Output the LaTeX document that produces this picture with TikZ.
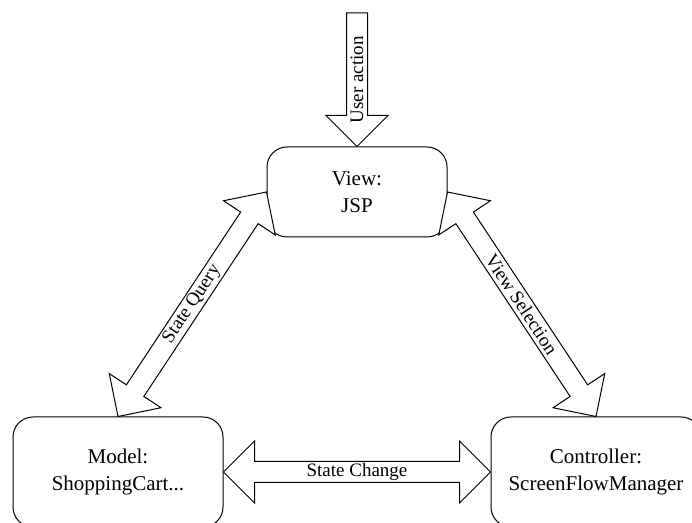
\documentclass[tikz,border=0pt]{standalone}
\usepackage{fontspec}
\setmainfont{Liberation Serif}
\usetikzlibrary{calc}

\begin{document}
\begin{tikzpicture}[x=0.5pt, y=-0.5pt,
    box/.style={draw, line width=0.5pt, rounded corners=10pt, align=center,
        font=\rmfamily\fontsize{10.5}{13.5}\selectfont},
    fat/.style={draw, fill=white, line width=0.5pt, line join=miter},
    lbl/.style={sloped, inner sep=0pt, font=\rmfamily\fontsize{9.5}{11}\selectfont}]

    % Fix the visible region
    \useasboundingbox (0,0) rectangle (692,523);
    \clip (0,0) rectangle (692,523);

    % Define the three boxes
    \node[box, minimum width=90pt, minimum height=45pt] (view) at (357,192) {View:\\JSP};
    \node[box, minimum width=105pt, minimum height=55pt] (model) at (118,472) {Model:\\ShoppingCart...};
    \node[box, minimum width=105pt, minimum height=55pt] (ctrl) at (596,472) {Controller:\\ScreenFlowManager};

    % Free end of the user action arrow
    \coordinate (act) at (357,13);

    % User action arrow (one head, into the view)
    \coordinate (ua) at ($(view.north)!15.5pt!(act)$);
    \draw[fat] ($(act)!5.25pt!90:(view.north)$) -- ($(ua)!5.25pt!-90:(act)$)
        -- ($(ua)!15.5pt!-90:(act)$) -- (view.north) -- ($(ua)!15.5pt!90:(act)$)
        -- ($(ua)!5.25pt!90:(act)$) -- ($(act)!5.25pt!-90:(view.north)$) -- cycle;
    \path (view.north) -- node[lbl] {User action} (act);

    % State query arrow between model and view
    \coordinate (q1) at ($(model.north)!15.5pt!(view.west)$);
    \coordinate (q2) at ($(view.west)!15.5pt!(model.north)$);
    \draw[fat] (model.north) -- ($(q1)!15.5pt!90:(view.west)$) -- ($(q1)!5.25pt!90:(view.west)$)
        -- ($(q2)!5.25pt!-90:(model.north)$) -- ($(q2)!15.5pt!-90:(model.north)$) -- (view.west)
        -- ($(q2)!15.5pt!90:(model.north)$) -- ($(q2)!5.25pt!90:(model.north)$)
        -- ($(q1)!5.25pt!-90:(view.west)$) -- ($(q1)!15.5pt!-90:(view.west)$) -- cycle;
    \path (model.north) -- node[lbl] {State Query} (view.west);

    % View selection arrow between view and controller
    \coordinate (s1) at ($(view.east)!15.5pt!(ctrl.north)$);
    \coordinate (s2) at ($(ctrl.north)!15.5pt!(view.east)$);
    \draw[fat] (view.east) -- ($(s1)!15.5pt!90:(ctrl.north)$) -- ($(s1)!5.25pt!90:(ctrl.north)$)
        -- ($(s2)!5.25pt!-90:(view.east)$) -- ($(s2)!15.5pt!-90:(view.east)$) -- (ctrl.north)
        -- ($(s2)!15.5pt!90:(view.east)$) -- ($(s2)!5.25pt!90:(view.east)$)
        -- ($(s1)!5.25pt!-90:(ctrl.north)$) -- ($(s1)!15.5pt!-90:(ctrl.north)$) -- cycle;
    \path (view.east) -- node[lbl] {View Selection} (ctrl.north);

    % State change arrow between model and controller
    \coordinate (c1) at ($(model.east)!15.5pt!(ctrl.west)$);
    \coordinate (c2) at ($(ctrl.west)!15.5pt!(model.east)$);
    \draw[fat] (model.east) -- ($(c1)!15.5pt!90:(ctrl.west)$) -- ($(c1)!5.25pt!90:(ctrl.west)$)
        -- ($(c2)!5.25pt!-90:(model.east)$) -- ($(c2)!15.5pt!-90:(model.east)$) -- (ctrl.west)
        -- ($(c2)!15.5pt!90:(model.east)$) -- ($(c2)!5.25pt!90:(model.east)$)
        -- ($(c1)!5.25pt!-90:(ctrl.west)$) -- ($(c1)!15.5pt!-90:(ctrl.west)$) -- cycle;
    \path (model.east) -- node[lbl] {State Change} (ctrl.west);

\end{tikzpicture}
\end{document}
